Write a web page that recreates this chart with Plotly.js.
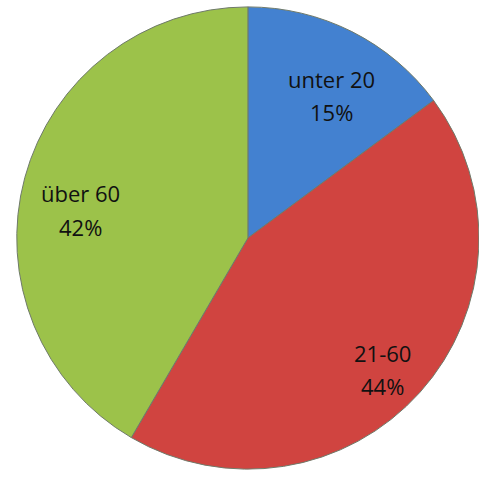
<!DOCTYPE html>
<html>
<head>
<meta charset="utf-8">
<script src="https://cdn.plot.ly/plotly-3.0.1.min.js"></script>
<style>
  html, body { margin: 0; padding: 0; background: #fff; }
  #chart { width: 479px; height: 477px; }
</style>
</head>
<body>
<div id="chart"></div>
<script>
// Altersgruppen
var gruppen = ["unter 20", "21-60", "über 60"];
var anteile = [15, 44, 42];
var farben = ["#4381d0", "#d04440", "#9cc24a"];

// Position der Beschriftung je Segment (Pixel im Bild)
var beschriftungPos = [[331, 79, 112], [382, 353, 386], [80, 193, 227]];

var summe = anteile.reduce(function (a, b) { return a + b; }, 0);

var trace = {
  type: "pie",
  labels: gruppen,
  values: anteile,
  sort: false,
  direction: "clockwise",
  rotation: 0,
  marker: { colors: farben, line: { color: "#6f7a6a", width: 1 } },
  textinfo: "none",
  hoverinfo: "none",
  domain: { x: [0.035, 1], y: [0.015, 0.987] }
};

var schrift = { family: "'Open Sans', sans-serif", size: 22, color: "#111" };
var anmerkungen = [];
gruppen.forEach(function (g, i) {
  var p = beschriftungPos[i];
  anmerkungen.push({
    text: g, x: p[0] / 479, y: 1 - p[1] / 477, xref: "paper", yref: "paper",
    showarrow: false, font: schrift, xanchor: "center", yanchor: "middle"
  });
  anmerkungen.push({
    text: Math.round(anteile[i] / summe * 100) + "%", x: p[0] / 479, y: 1 - p[2] / 477,
    xref: "paper", yref: "paper",
    showarrow: false, font: schrift, xanchor: "center", yanchor: "middle"
  });
});

var tampilan = {
  width: 479,
  height: 477,
  margin: { l: 0, r: 0, t: 0, b: 0 },
  showlegend: false,
  paper_bgcolor: "#fff",
  annotations: anmerkungen
};

Plotly.newPlot("chart", [trace], tampilan, { displayModeBar: false, staticPlot: true });
</script>
</body>
</html>
